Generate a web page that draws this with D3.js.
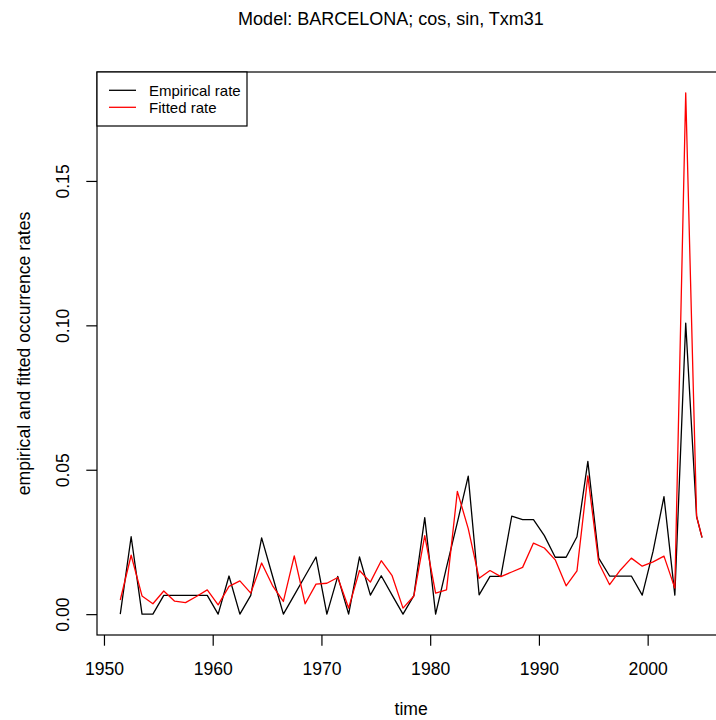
<!DOCTYPE html>
<html>
<head>
<meta charset="utf-8">
<script src="https://cdn.jsdelivr.net/npm/d3@7"></script>
<style>
  body { margin: 0; background: #fff; }
  svg { display: block; font-family: "Liberation Sans", Arial, Helvetica, sans-serif; }
</style>
</head>
<body>
<div class="container"></div>
<script>
// values
const years = [
  1951.5, 1952.5, 1953.5, 1954.5, 1955.5, 1956.5, 1957.5, 1958.5, 1959.5, 1960.5,
  1961.5, 1962.5, 1963.5, 1964.5, 1965.5, 1966.5, 1967.5, 1968.5, 1969.5, 1970.5,
  1971.5, 1972.5, 1973.5, 1974.5, 1975.5, 1976.5, 1977.5, 1978.5, 1979.5, 1980.5,
  1981.5, 1982.5, 1983.5, 1984.5, 1985.5, 1986.5, 1987.5, 1988.5, 1989.5, 1990.5,
  1991.5, 1992.5, 1993.5, 1994.5, 1995.5, 1996.5, 1997.5, 1998.5, 1999.5, 2000.5,
  2001.5, 2002.5, 2003.5, 2004.5, 2005.0
];
const empirical = [
  0, 0.0268, 0, 0, 0.0065, 0.0065, 0.0065, 0.0065, 0.0065, 0,
  0.0132, 0, 0.0065, 0.0264, 0.0132, 0, 0.0066, 0.0132, 0.0198, 0,
  0.0131, 0, 0.0198, 0.0066, 0.0133, 0.0066, 0, 0.0064, 0.0334, 0,
  0.0162, 0.0318, 0.0478, 0.0067, 0.0131, 0.0131, 0.0339, 0.0327, 0.0327, 0.0272,
  0.0197, 0.0197, 0.0268, 0.0529, 0.0194, 0.0132, 0.0132, 0.0132, 0.0066, 0.0218,
  0.0407, 0.0066, 0.1008, 0.0338, 0.0265
];
const fitted = [
  0.0049, 0.0204, 0.0063, 0.0036, 0.0080, 0.0045, 0.0040, 0.0061, 0.0084, 0.0032,
  0.0096, 0.0115, 0.0073, 0.0177, 0.0099, 0.0044, 0.0202, 0.0036, 0.0104, 0.0107,
  0.0127, 0.0021, 0.0151, 0.0111, 0.0185, 0.0133, 0.0021, 0.0063, 0.0272, 0.0073,
  0.0084, 0.0425, 0.0296, 0.0124, 0.0151, 0.0130, 0.0146, 0.0162, 0.0246, 0.0229,
  0.0188, 0.0098, 0.0150, 0.0479, 0.0177, 0.0102, 0.0153, 0.0194, 0.0166, 0.0181,
  0.0201, 0.0090, 0.1805, 0.0338, 0.0266
];
const xTicks = [1950, 1960, 1970, 1980, 1990, 2000];
const yTicks = [0, 0.05, 0.10, 0.15];
const seriesNames = ['Empirical rate', 'Fitted rate'];
const seriesColors = ['#000', '#ff0000'];

const titleText = 'Model: BARCELONA; cos, sin, Txm31';
const xLabel = 'time';
const yLabel = 'empirical and fitted  occurrence rates';

// frame: R-like plot region, the right edge runs past the window
const W = 716, H = 720;
const plot = { left: 97, right: 725.3, top: 72, bottom: 635 };
const tickLen = 10.7;
const axisFont = 17.6;
const legendFont = 15;

const svg = d3.select('.container')
  .append('svg')
  .attr('width', W)
  .attr('height', H);

// R pads the data range by 4% each side
const pad = (lo, hi) => { const d = (hi - lo) * 0.04; return [lo - d, hi + d]; };

const x = d3.scaleLinear()
  .domain(pad(d3.min(years), d3.max(years)))
  .range([plot.left, plot.right]);

const y = d3.scaleLinear()
  .domain(pad(0, d3.max([...empirical, ...fitted])))
  .range([plot.bottom, plot.top]);

// lines
const line = vals => d3.line()
  .x((d, i) => x(years[i]))
  .y(d => y(d))(vals);

[empirical, fitted].forEach((vals, k) => {
  svg.append('path')
    .attr('d', line(vals))
    .attr('fill', 'none')
    .attr('stroke', seriesColors[k])
    .attr('stroke-width', 1.3)
    .attr('stroke-linejoin', 'round');
});

// box
svg.append('rect')
  .attr('x', plot.left)
  .attr('y', plot.top)
  .attr('width', plot.right - plot.left)
  .attr('height', plot.bottom - plot.top)
  .attr('fill', 'none')
  .attr('stroke', '#000')
  .attr('stroke-width', 1.2);

// x axis
const xAxis = svg.append('g')
  .attr('transform', `translate(0, ${plot.bottom})`)
  .call(d3.axisBottom(x).tickValues(xTicks).tickFormat(d3.format('d')).tickSize(tickLen));
xAxis.attr('font-family', null).attr('font-size', null);
xAxis.select('.domain').remove();
xAxis.selectAll('line').attr('stroke', '#000').attr('stroke-width', 1.2);
xAxis.selectAll('text')
  .attr('font-size', axisFont)
  .attr('fill', '#000')
  .attr('dy', null)
  .attr('y', 40);

// y axis, labels turned like R's las = 0
const yAxis = svg.append('g')
  .attr('transform', `translate(${plot.left}, 0)`)
  .call(d3.axisLeft(y).tickValues(yTicks).tickFormat(d3.format('.2f')).tickSize(tickLen));
yAxis.attr('font-family', null).attr('font-size', null);
yAxis.select('.domain').remove();
yAxis.selectAll('line').attr('stroke', '#000').attr('stroke-width', 1.2);
yAxis.selectAll('text')
  .attr('font-size', axisFont)
  .attr('fill', '#000')
  .attr('x', null)
  .attr('dy', null)
  .attr('text-anchor', 'middle')
  .attr('transform', `translate(${69 - plot.left}, 0) rotate(-90)`);

// titles
svg.append('text')
  .attr('x', 391)
  .attr('y', 25)
  .attr('text-anchor', 'middle')
  .attr('font-size', 18)
  .text(titleText);

svg.append('text')
  .attr('x', (plot.left + plot.right) / 2)
  .attr('y', 715)
  .attr('text-anchor', 'middle')
  .attr('font-size', axisFont)
  .text(xLabel);

svg.append('text')
  .attr('transform', `translate(30, ${(plot.top + plot.bottom) / 2}) rotate(-90)`)
  .attr('text-anchor', 'middle')
  .attr('font-size', axisFont)
  .text(yLabel);

// legend
const legend = svg.append('g');
legend.append('rect')
  .attr('x', plot.left)
  .attr('y', plot.top)
  .attr('width', 150)
  .attr('height', 54)
  .attr('fill', '#fff')
  .attr('stroke', '#000')
  .attr('stroke-width', 1.2);

seriesNames.forEach((name, i) => {
  const ly = 90.3 + i * 17;
  legend.append('line')
    .attr('x1', 109).attr('x2', 136)
    .attr('y1', ly).attr('y2', ly)
    .attr('stroke', seriesColors[i])
    .attr('stroke-width', 1.3);
  legend.append('text')
    .attr('x', 149)
    .attr('y', ly + 5.3)
    .attr('font-size', legendFont)
    .text(name);
});
</script>
</body>
</html>
